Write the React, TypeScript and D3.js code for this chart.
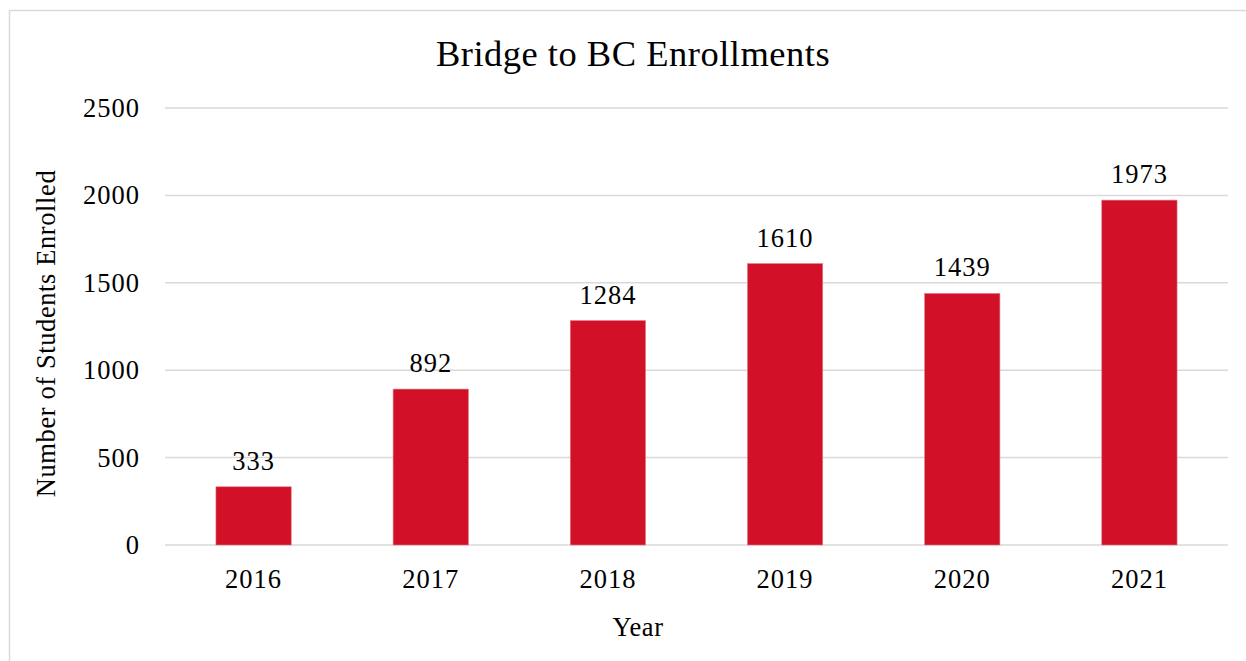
import React, { useEffect } from "react";
import * as d3 from "d3";

const years = ["2016", "2017", "2018", "2019", "2020", "2021"];
const enrollments = [333, 892, 1284, 1610, 1439, 1973];
const yTicks = [0, 500, 1000, 1500, 2000, 2500];

const FONT = "'Liberation Serif', 'DejaVu Serif', serif";

const width = 1246;
const height = 661;
const plot = { left: 165, right: 1228, top: 108, bottom: 545 };
const labelSize = 26.5;

const App: React.FC = () => {
  useEffect(() => {
    document.body.style.margin = "0";
  }, []);

  const xScale = d3
    .scaleBand<string>()
    .domain(years)
    .range([plot.left, plot.right])
    .paddingInner(0.575)
    .paddingOuter(0.2875);

  const yScale = d3.scaleLinear().domain([0, 2500]).range([plot.bottom, plot.top]);

  return (
    <svg width={width} height={height} style={{ display: "block", background: "#fff" }}>
      {/* chart border */}
      <rect x={9.5} y={10.5} width={1260} height={700} fill="#fff" stroke="#d9d9d9" strokeWidth={1.5} />

      <text x={633} y={66} textAnchor="middle" fontFamily={FONT} fontSize={36.5} letterSpacing={0.5} fill="#000">
        Bridge to BC Enrollments
      </text>

      {/* gridlines + y ticks */}
      {yTicks.map((t) => (
        <g key={t}>
          <line x1={plot.left} x2={plot.right} y1={yScale(t)} y2={yScale(t)} stroke="#d9d9d9" strokeWidth={1.5} />
          <text
            x={140}
            y={yScale(t)}
            dy="0.34em"
            textAnchor="end"
            fontFamily={FONT}
            fontSize={labelSize}
            letterSpacing={1}
            fill="#000"
          >
            {t}
          </text>
        </g>
      ))}

      {/* bars */}
      {years.map((yr, i) => {
        const x = xScale(yr)!;
        const y = yScale(enrollments[i]);
        const cx = x + xScale.bandwidth() / 2;
        return (
          <g key={yr}>
            <rect
              x={x}
              y={y}
              width={xScale.bandwidth()}
              height={plot.bottom - y}
              fill="#d21129"
              stroke="#e07c88"
              strokeWidth={0.6}
            />
            <text
              x={cx}
              y={y - 17}
              textAnchor="middle"
              fontFamily={FONT}
              fontSize={labelSize}
              letterSpacing={1}
              fill="#000"
            >
              {enrollments[i]}
            </text>
            <text
              x={cx}
              y={588}
              textAnchor="middle"
              fontFamily={FONT}
              fontSize={labelSize}
              letterSpacing={1}
              fill="#000"
            >
              {yr}
            </text>
          </g>
        );
      })}

      {/* axis titles */}
      <text x={638} y={636} textAnchor="middle" fontFamily={FONT} fontSize={labelSize} letterSpacing={0.6} fill="#000">
        Year
      </text>
      <text
        transform={`translate(55, 333.5) rotate(-90)`}
        textAnchor="middle"
        fontFamily={FONT}
        fontSize={labelSize}
        letterSpacing={0.6}
        fill="#000"
      >
        Number of Students Enrolled
      </text>
    </svg>
  );
};

export default App;
